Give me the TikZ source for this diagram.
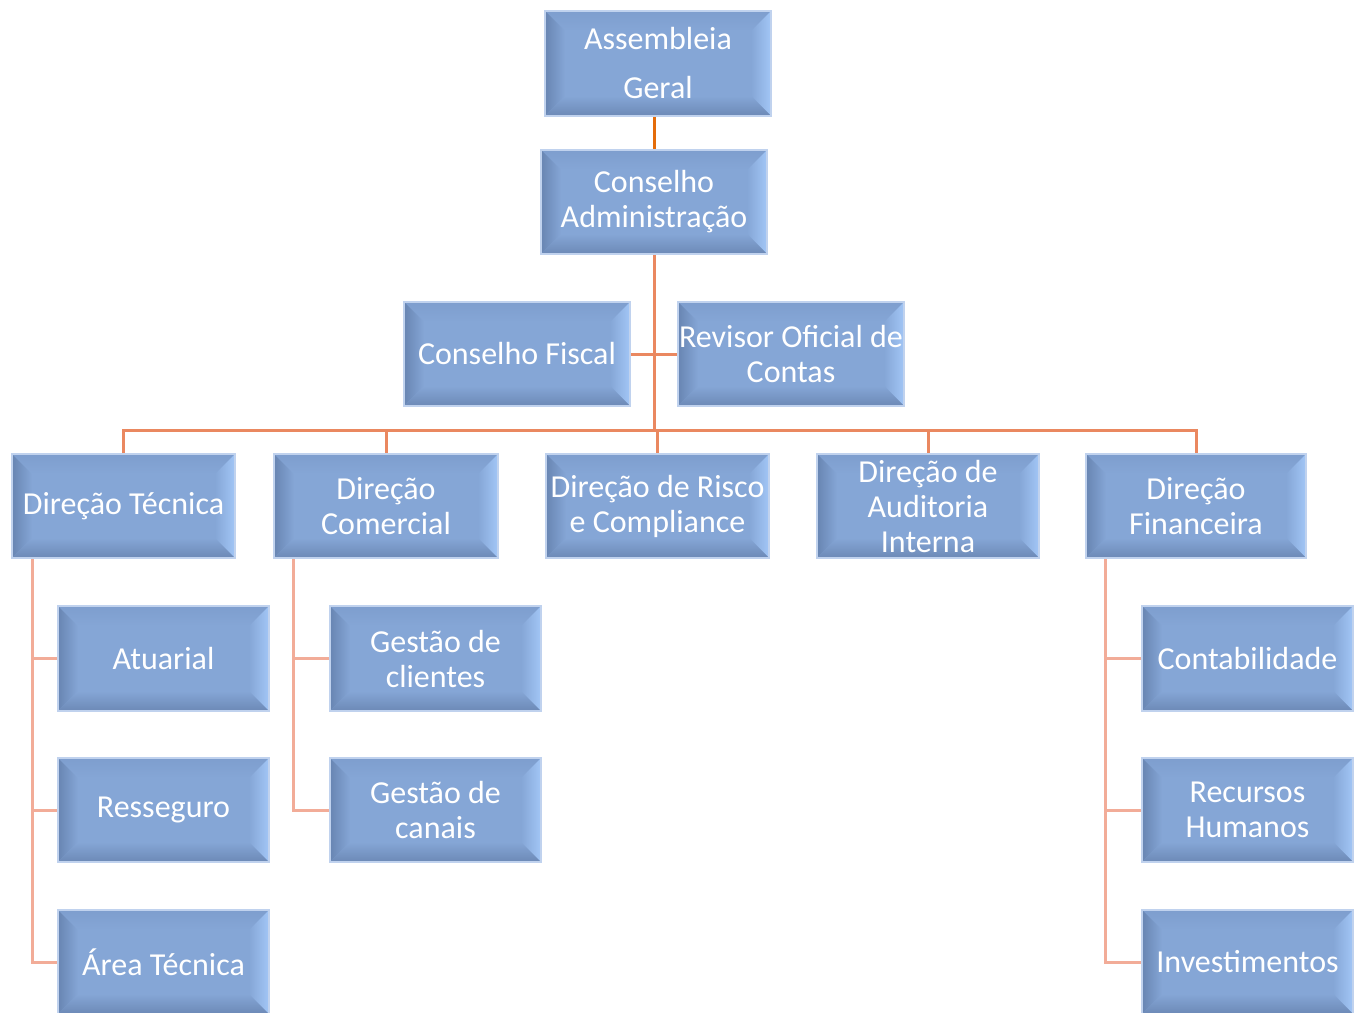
\documentclass[tikz,border=0pt]{standalone}
\usepackage{fontspec}
\setmainfont{Carlito}
\usetikzlibrary{calc}
\definecolor{boxfill}{RGB}{133,166,214}
\definecolor{boxborder}{RGB}{192,210,238}
\definecolor{bvleft}{RGB}{104,133,178}
\definecolor{bvright}{RGB}{162,198,246}
\definecolor{bvbottom}{RGB}{108,137,182}
\definecolor{bvtop}{RGB}{126,158,206}
\definecolor{lineA}{RGB}{228,108,10}
\definecolor{lineB}{RGB}{234,136,96}
\definecolor{lineC}{RGB}{242,172,152}
\tikzset{
  bevel/.style={path picture={
    \coordinate (bvA) at (path picture bounding box.north west);
    \coordinate (bvB) at (path picture bounding box.north east);
    \coordinate (bvC) at (path picture bounding box.south east);
    \coordinate (bvD) at (path picture bounding box.south west);
    \coordinate (bva) at ($(bvA)+(20pt,-20pt)$);
    \coordinate (bvb) at ($(bvB)+(-20pt,-20pt)$);
    \coordinate (bvc) at ($(bvC)+(-20pt,20pt)$);
    \coordinate (bvd) at ($(bvD)+(20pt,20pt)$);
    \shade[top color=bvtop, bottom color=boxfill] (bvA)--(bvB)--(bvb)--(bva)--cycle;
    \shade[left color=bvleft, right color=boxfill] (bvA)--(bva)--(bvd)--(bvD)--cycle;
    \shade[left color=boxfill, right color=bvright] (bvB)--(bvC)--(bvc)--(bvb)--cycle;
    \shade[top color=boxfill, bottom color=bvbottom] (bvD)--(bvd)--(bvc)--(bvC)--cycle;
  }},
  orgbox/.style={draw=boxborder, line width=2pt, fill=boxfill, bevel,
    text=white, align=center, inner sep=0pt,
    font=\fontsize{32}{35}\selectfont},
  conA/.style={draw=lineA, line width=3pt},
  conB/.style={draw=lineB, line width=3pt},
  conC/.style={draw=lineC, line width=3pt},
}
\begin{document}
\begin{tikzpicture}[x=1pt,y=-1pt]
\useasboundingbox (0,0) rectangle (1362,1012);
% top
\node[orgbox, minimum width=226pt, minimum height=105pt] (ag) at (658,63.5) {Assembleia\\[14pt]Geral};
\node[orgbox, minimum width=226pt, minimum height=104pt] (ca) at (654,202) {Conselho\\Administração};
\node[orgbox, minimum width=226pt, minimum height=104pt] (cf) at (517,354) {Conselho Fiscal};
\node[orgbox, minimum width=226pt, minimum height=104pt] (ro) at (791,354) {Revisor Oficial de\\Contas};
% directors
\node[orgbox, minimum width=223pt, minimum height=104pt] (dt) at (123.5,506) {Direção Técnica};
\node[orgbox, minimum width=224pt, minimum height=104pt] (dc) at (386,506) {Direção\\Comercial};
\node[orgbox, minimum width=223pt, minimum height=104pt] (dr) at (657.5,506) {Direção de Risco\\e Compliance};
\node[orgbox, minimum width=222pt, minimum height=104pt] (da) at (928,506) {Direção de\\Auditoria\\Interna};
\node[orgbox, minimum width=220pt, minimum height=104pt] (df) at (1196,506) {Direção\\Financeira};
% sub units
\node[orgbox, minimum width=211pt, minimum height=105pt] (at) at (163.5,658.5) {Atuarial};
\node[orgbox, minimum width=211pt, minimum height=104pt] (rs) at (163.5,810) {Resseguro};
\node[orgbox, minimum width=211pt, minimum height=104pt] (ar) at (163.5,962) {Área Técnica};
\node[orgbox, minimum width=211pt, minimum height=105pt] (gc) at (435.5,658.5) {Gestão de\\clientes};
\node[orgbox, minimum width=211pt, minimum height=104pt] (gn) at (435.5,810) {Gestão de\\canais};
\node[orgbox, minimum width=211pt, minimum height=105pt] (ct) at (1247.5,658.5) {Contabilidade};
\node[orgbox, minimum width=211pt, minimum height=104pt] (rh) at (1247.5,810) {Recursos\\Humanos};
\node[orgbox, minimum width=211pt, minimum height=104pt] (iv) at (1247.5,962) {Investimentos};
% connectors
\draw[conA] (ca.north |- ag.south) -- (ca.north);
\coordinate (bus) at (654,430);
\draw[conB] (ca.south) -- (bus);
\draw[conB] (cf.east) -- (ro.west);
\draw[conB] (dt.north) -- (dt.north |- bus) -- (df.north |- bus) -- (df.north);
\draw[conB] (dc.north |- bus) -- (dc.north);
\draw[conB] (dr.north |- bus) -- (dr.north);
\draw[conB] (da.north |- bus) -- (da.north);
\coordinate (tsp) at ([xshift=21pt]dt.south west);
\coordinate (csp) at ([xshift=20pt]dc.south west);
\coordinate (fsp) at ([xshift=20pt]df.south west);
\draw[conC] (tsp) |- (at.west);
\draw[conC] (tsp) |- (rs.west);
\draw[conC] (tsp) |- (ar.west);
\draw[conC] (csp) |- (gc.west);
\draw[conC] (csp) |- (gn.west);
\draw[conC] (fsp) |- (ct.west);
\draw[conC] (fsp) |- (rh.west);
\draw[conC] (fsp) |- (iv.west);
\end{tikzpicture}
\end{document}
